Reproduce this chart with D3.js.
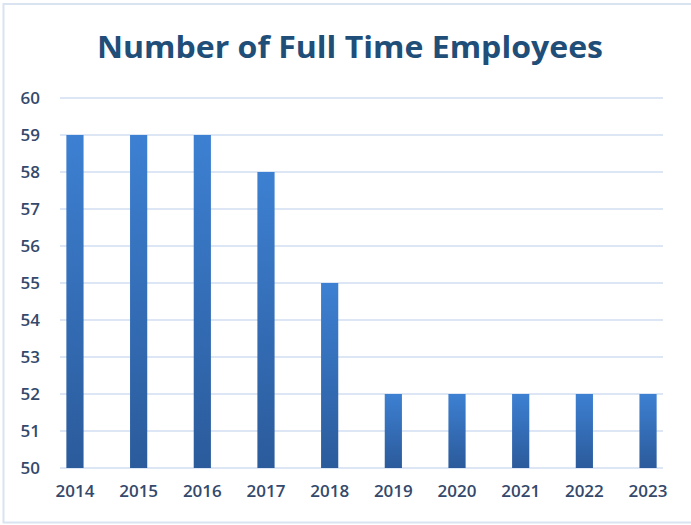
<!DOCTYPE html>
<html>
  <head>
    <meta charset="utf-8">
    <title>Number of Full Time Employees</title>
    <style>
      body { margin: 0; background: #fff; }
      #chart { width: 691px; height: 525px; }
      .tick text { font-family: "Open Sans", sans-serif; fill: #34496b; }
    </style>
  </head>
  <body>
    <div id="chart"></div>
    <script src="https://cdn.jsdelivr.net/npm/d3@7"></script>
    <script>
      // data
      var years = ['2014', '2015', '2016', '2017', '2018', '2019', '2020', '2021', '2022', '2023'];
      var employees = [59, 59, 59, 58, 55, 52, 52, 52, 52, 52];
      var yTicks = [50, 51, 52, 53, 54, 55, 56, 57, 58, 59, 60];

      var width = 691, height = 525;
      var margin = { top: 98, right: 28, bottom: 57, left: 60 };  // plot area edges

      var svg = d3.select('#chart').append('svg')
        .attr('width', width)
        .attr('height', height);

      // outer frame of the chart (right edge falls outside the picture)
      svg.append('rect')
        .attr('x', 3.5).attr('y', 4)
        .attr('width', width + 10).attr('height', height - 6.5)
        .attr('fill', '#fff')
        .attr('stroke', '#dae4f1')
        .attr('stroke-width', 2);

      // gradient for the bars, lighter at the top
      var grad = svg.append('defs').append('linearGradient')
        .attr('id', 'barFill')
        .attr('x1', 0).attr('y1', 0).attr('x2', 0).attr('y2', 1);
      grad.append('stop').attr('offset', '0%').attr('stop-color', '#3d80d2');
      grad.append('stop').attr('offset', '100%').attr('stop-color', '#2b5b9b');

      var x = d3.scaleBand()
        .domain(years)
        .range([margin.left, width - margin.right])
        .paddingInner(0.73)
        .paddingOuter(0.1);

      var y = d3.scaleLinear()
        .domain([50, 60])
        .range([height - margin.bottom, margin.top]);

      // horizontal gridlines
      svg.append('g')
        .selectAll('line')
        .data(yTicks)
        .enter()
        .append('line')
        .attr('x1', margin.left)
        .attr('x2', width - margin.right)
        .attr('y1', function(d) { return y(d); })
        .attr('y2', function(d) { return y(d); })
        .attr('stroke', '#dce6f4')
        .attr('stroke-width', 2);

      // bars
      svg.append('g')
        .selectAll('rect')
        .data(employees)
        .enter()
        .append('rect')
        .attr('x', function(d, i) { return x(years[i]); })
        .attr('y', function(d) { return y(d); })
        .attr('width', x.bandwidth())
        .attr('height', function(d) { return y(50) - y(d); })
        .attr('fill', 'url(#barFill)');

      // y axis labels only, no line
      var yAxis = svg.append('g')
        .attr('transform', 'translate(' + (margin.left - 20) + ',0)')
        .call(d3.axisLeft(y).tickValues(yTicks).tickSize(0).tickPadding(0));
      yAxis.select('.domain').remove();
      yAxis.selectAll('text').style('font-size', '17px').style('font-weight', 600);

      var xAxis = svg.append('g')
        .attr('transform', 'translate(0,' + (height - margin.bottom) + ')')
        .call(d3.axisBottom(x).tickSize(0).tickPadding(17));
      xAxis.select('.domain').remove();
      xAxis.selectAll('text').style('font-size', '17px').style('font-weight', 600);

      // title
      svg.append('text')
        .attr('x', 350)
        .attr('y', 58)
        .attr('text-anchor', 'middle')
        .attr('textLength', 506)
        .attr('lengthAdjust', 'spacingAndGlyphs')
        .style('font-family', '"Open Sans", sans-serif')
        .style('font-weight', 700)
        .style('font-size', '31px')
        .style('fill', '#1f4e79')
        .text('Number of Full Time Employees');
    </script>
  </body>
</html>
